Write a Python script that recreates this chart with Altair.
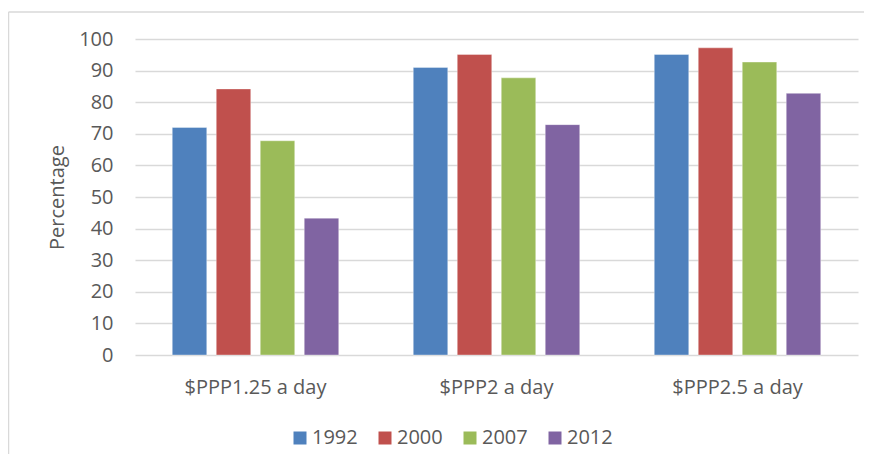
import altair as alt
import pandas as pd

categories = ["$PPP1.25 a day", "$PPP2 a day", "$PPP2.5 a day"]
years = ["1992", "2000", "2007", "2012"]
values_1992 = [72.0, 91.0, 95.1]
values_2000 = [84.2, 95.1, 97.2]
values_2007 = [67.8, 87.7, 92.7]
values_2012 = [43.3, 72.9, 82.8]
colors = ["#4F81BD", "#C0504D", "#9BBB59", "#8064A2"]
y_ticks = [0, 10, 20, 30, 40, 50, 60, 70, 80, 90, 100]

series = {"1992": values_1992, "2000": values_2000, "2007": values_2007, "2012": values_2012}
rows = []
for yr in years:
    for cat, v in zip(categories, series[yr]):
        rows.append({"category": cat, "year": yr, "value": v})
df = pd.DataFrame(rows)

FONT = "Open Sans"
TXT = "#595959"
GRID = "#d9d9d9"

bars = alt.Chart(df).mark_bar(stroke="white", strokeWidth=0.6, strokeOpacity=0.6).encode(
    x=alt.X("category:N", sort=categories,
            scale=alt.Scale(paddingInner=0, paddingOuter=0),
            axis=alt.Axis(title=None, labelAngle=0, labelPadding=22, labelFontSize=20,
                          labelFont=FONT, labelColor=TXT, domain=False, ticks=False, grid=False)),
    xOffset=alt.XOffset("year:N", sort=years,
                        scale=alt.Scale(paddingInner=0.216, paddingOuter=0.847)),
    y=alt.Y("value:Q", scale=alt.Scale(domain=[0, 100], nice=False),
            axis=alt.Axis(title="Percentage", values=y_ticks, labelFontSize=20, labelFont=FONT,
                          labelColor=TXT, labelPadding=22, domain=False, ticks=False,
                          grid=True, gridColor=GRID, gridWidth=1.5,
                          titleFont=FONT, titleFontSize=20, titleFontWeight="normal",
                          titleColor=TXT, titleAngle=-90, titleX=-72, titleY=158,
                          titleAlign="center", titleBaseline="alphabetic")),
    color=alt.Color("year:N", sort=years,
                    scale=alt.Scale(domain=years, range=colors),
                    legend=alt.Legend(title=None, orient="none", direction="horizontal",
                                      legendX=155, legendY=389, columns=4,
                                      symbolType="square", symbolSize=169, symbolStrokeWidth=0,
                                      labelFont=FONT, labelFontSize=20, labelColor=TXT,
                                      labelOffset=2, columnPadding=17, padding=0)),
)

frame = alt.Data(values=[{}])
top_line = alt.Chart(frame).mark_rule(stroke=GRID, strokeWidth=1.5).encode(
    x=alt.value(-126.5), x2=alt.value(729), y=alt.value(-27)
)
left_line = alt.Chart(frame).mark_rule(stroke=GRID, strokeWidth=1.5).encode(
    x=alt.value(-126.5), y=alt.value(-27), y2=alt.value(415)
)

chart = alt.layer(top_line, left_line, bars).properties(
    width=723, height=316,
    autosize=alt.AutoSizeParams(type="none"),
    padding={"left": 127, "top": 31, "right": 7, "bottom": 100},
).configure_view(strokeWidth=0)

chart.save("out.html", embed_options={"renderer": "svg", "actions": False})
